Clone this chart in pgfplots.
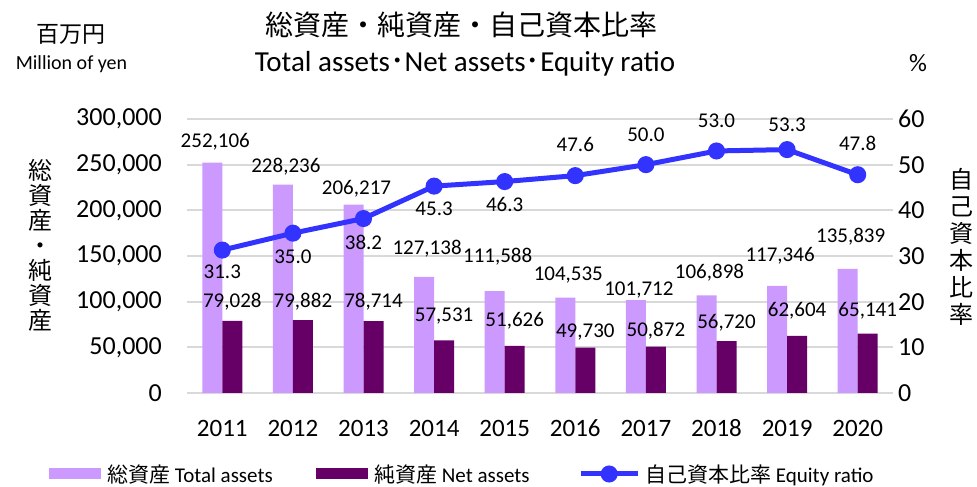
\documentclass[border=0pt]{standalone}
\usepackage{pgfplots}
\pgfplotsset{compat=1.18}
\usepackage{pgfplotstable}
\usepackage{fontspec}
\setmainfont{Carlito}
\newfontfamily\jp{Noto Sans CJK JP}
\definecolor{totc}{HTML}{CC99FF}
\definecolor{netc}{HTML}{660066}
\definecolor{linec}{HTML}{3333FF}
\definecolor{gridc}{HTML}{D9D9D9}

\pgfplotstableread{
x total net ts ns
0 252106 79028 21 19
1 228236 79882 18 18
2 206217 78714 16 19
3 127138 57531 28 24
4 111588 51626 34 25
5 104535 49730 22 16
6 101712 50872 10 16
7 106898 56720 23 18
8 117346 62604 30 25
9 135839 65141 32 23
}\assets

\pgfplotstableread{
x ratio rs
0 31.3 -22
1 35.0 -24
2 38.2 -24
3 45.3 -23
4 46.3 -23
5 47.6 31
6 50.0 30
7 53.0 30
8 53.3 25
9 47.8 31
}\ratiotab

\begin{document}
\begin{tikzpicture}
\useasboundingbox (0,0) rectangle (977pt,487pt);
\begin{axis}[
  at={(187pt,94pt)}, anchor=south west,
  scale only axis, width=706pt, height=274pt,
  xmin=-0.5, xmax=9.5, ymin=0, ymax=300000,
  ytick={0,50000,100000,150000,200000,250000,300000},
  xtick={0,1,2,3,4,5,6,7,8,9},
  xticklabels={2011,2012,2013,2014,2015,2016,2017,2018,2019,2020},
  axis line style={draw=none}, major tick length=0pt,
  ymajorgrids, grid style={gridc, line width=2pt},
  ybar=0pt, bar width=20pt,
  scaled y ticks=false,
  /pgf/number format/assume math mode=true,
  yticklabel style={/pgf/number format/fixed, /pgf/number format/1000 sep={,}, inner sep=0pt, anchor=east, xshift=-25pt, font=\fontsize{26}{30}\selectfont},
  xticklabel style={inner sep=0pt, anchor=center, yshift=-35pt, font=\fontsize{25}{30}\selectfont},
  nodes near coords={\pgfmathprintnumber[fixed,precision=0,1000 sep={,}]{\pgfplotspointmeta}},
  clip=false,
]
\addplot[fill=totc, draw=none,
  visualization depends on={\thisrow{ts} \as \tshift},
  every node near coord/.append style={anchor=center, inner sep=0pt, yshift=\tshift, xshift=3pt, font=\fontsize{21}{25}\selectfont, text=black}]
  table[x=x, y=total] {\assets};
\addplot[fill=netc, draw=none,
  visualization depends on={\thisrow{ns} \as \nshift},
  every node near coord/.append style={anchor=center, inner sep=0pt, yshift=\nshift, font=\fontsize{21}{25}\selectfont, text=black}]
  table[x=x, y=net] {\assets};
\end{axis}

\begin{axis}[
  at={(187pt,94pt)}, anchor=south west,
  scale only axis, width=706pt, height=274pt,
  xmin=-0.5, xmax=9.5, ymin=0, ymax=60,
  ytick={0,10,20,30,40,50,60},
  xtick=\empty,
  axis line style={draw=none}, major tick length=0pt,
  yticklabel pos=right,
  /pgf/number format/assume math mode=true,
  yticklabel style={inner sep=0pt, anchor=west, xshift=5pt, font=\fontsize{26}{30}\selectfont},
  clip=false,
  legend columns=3,
  legend style={at={(-0.1955,-0.2956)}, anchor=west, draw=none, fill=none,
    inner sep=0pt, nodes={inner sep=0pt}, font=\fontsize{21}{25}\selectfont},
]
\addlegendimage{fill=totc, draw=none, legend image code/.code={\fill[totc] (0pt,-5.5pt) rectangle (52pt,5.5pt);}}
\addlegendimage{fill=netc, draw=none, legend image code/.code={\fill[netc] (0pt,-5.5pt) rectangle (52pt,5.5pt);}}
\addplot[linec, line width=5pt, mark=*, mark size=6pt, mark options={draw=none, fill=linec},
  legend image code/.code={\draw[linec, line width=5pt] (0pt,0pt) -- (57pt,0pt); \draw[mark repeat=2, mark phase=2, draw=none] plot[mark=*, mark size=6pt, mark options={draw=none, fill=linec}] coordinates {(0pt,0pt) (28.5pt,0pt) (57pt,0pt)};},
  nodes near coords={\pgfmathprintnumber[fixed,fixed zerofill,precision=1]{\pgfplotspointmeta}},
  visualization depends on={\thisrow{rs} \as \rshift},
  every node near coord/.append style={anchor=center, inner sep=0pt, yshift=\rshift, font=\fontsize{21}{25}\selectfont, text=black}]
  table[x=x, y=ratio] {\ratiotab};
\legend{{\hspace{6pt}\makebox[209pt][l]{{\jp 総資産} Total assets}}, {\hspace{6pt}\makebox[204pt][l]{{\jp 純資産} Net assets}}, {\hspace{5pt}{\jp 自己資本比率} Equity ratio}}
\end{axis}

% titles and axis names
\node[font=\jp\fontsize{28}{32}\selectfont, inner sep=0pt] at (461pt,462pt) {総資産・純資産・自己資本比率};
\node[font=\fontsize{29}{33}\selectfont, inner sep=0pt, anchor=base] at (465pt,415pt) {Total assets{\jp ･}Net assets{\jp ･}Equity ratio};
\node[font=\jp\fontsize{23}{26}\selectfont, inner sep=0pt] at (71pt,453pt) {百万円};
\node[font=\fontsize{20}{24}\selectfont, inner sep=0pt, anchor=base] at (71.5pt,417pt) {Million of yen};
\node[font=\fontsize{25}{29}\selectfont, inner sep=0pt, anchor=base] at (918pt,415pt) {\%};
\node[font=\jp\fontsize{24}{25}\selectfont, inner sep=0pt, align=center] at (40pt,242pt) {総\\資\\産\\・\\純\\資\\産};
\node[font=\jp\fontsize{24}{27}\selectfont, inner sep=0pt, align=center] at (961pt,240pt) {自\\己\\資\\本\\比\\率};
\end{tikzpicture}
\end{document}
